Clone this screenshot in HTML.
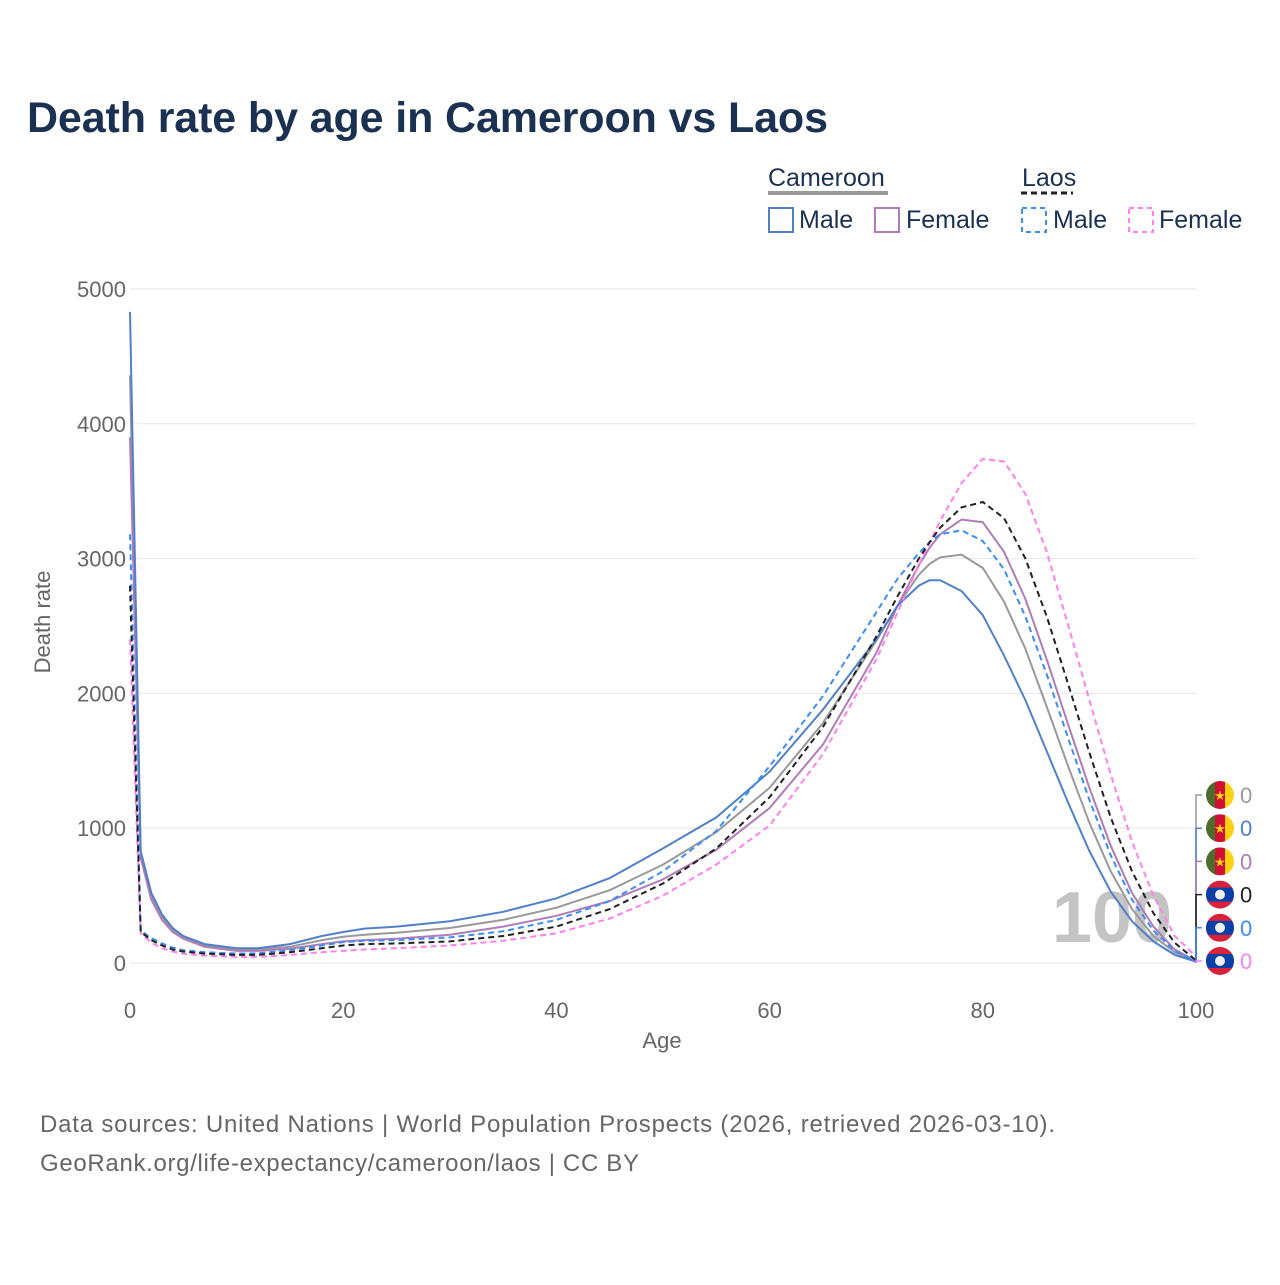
<!DOCTYPE html>
<html><head><meta charset="utf-8"><style>
body{margin:0;background:#fff;font-family:"Liberation Sans",sans-serif}
svg text{font-family:"Liberation Sans",sans-serif}
</style></head><body>
<svg id="chart" width="1280" height="1280" viewBox="0 0 1280 1280">
<text x="27" y="132" font-size="43" font-weight="bold" fill="#1b3152" textLength="801">Death rate by age in Cameroon vs Laos</text>
<g font-size="25" fill="#1b3152">
<text x="768" y="186">Cameroon</text>
<line x1="768" x2="888" y1="193" y2="193" stroke="#999" stroke-width="4"/>
<text x="1022" y="186">Laos</text>
<line x1="1021" x2="1073" y1="193" y2="193" stroke="#222" stroke-width="3" stroke-dasharray="6,4"/>
<g><rect x="769" y="208" width="24" height="24" fill="none" stroke="#4f80c8" stroke-width="2"/><text x="799" y="228">Male</text></g>
<g><rect x="875" y="208" width="24" height="24" fill="none" stroke="#b07cb8" stroke-width="2"/><text x="906" y="228">Female</text></g>
<g><rect x="1022" y="208" width="24" height="24" fill="none" stroke="#3a8ef5" stroke-width="2" stroke-dasharray="5,4"/><text x="1053" y="228">Male</text></g>
<g><rect x="1129" y="208" width="24" height="24" fill="none" stroke="#ff80ee" stroke-width="2" stroke-dasharray="5,4"/><text x="1159" y="228">Female</text></g>
</g>
<g id="grid"></g>
<text x="1112" y="942" font-size="72" font-weight="bold" fill="#c4c4c4" text-anchor="middle">100</text>
<g id="series"></g>
<defs id="defs"></defs>
<g id="flags"></g>
<text x="662" y="1048" font-size="22" fill="#666" text-anchor="middle">Age</text>
<text transform="translate(50,622) rotate(-90)" font-size="22" fill="#666" text-anchor="middle">Death rate</text>
<text x="40" y="1132" font-size="24" fill="#666" textLength="1015">Data sources: United Nations | World Population Prospects (2026, retrieved 2026-03-10).</text>
<text x="40" y="1171" font-size="24" fill="#666" textLength="599">GeoRank.org/life-expectancy/cameroon/laos | CC BY</text>
</svg>
<script>
const ages=[0,1,2,3,4,5,7,10,12,15,18,20,22,25,30,35,40,45,50,55,60,65,70,72,74,75,76,78,80,82,84,86,88,90,92,94,96,98,100];
const cmrTotal=[4360,800,490,340,245,190,130,100,100,120,170,195,210,225,260,320,410,540,730,970,1300,1780,2390,2650,2880,2960,3010,3030,2930,2680,2330,1900,1460,1040,680,400,200,80,10];
const cmrMale=[4830,830,520,360,260,200,140,110,110,140,200,230,255,270,310,380,480,630,850,1080,1420,1880,2400,2650,2800,2840,2840,2760,2580,2280,1950,1570,1190,830,530,310,160,60,10];
const cmrFemale=[3900,780,470,320,230,180,120,90,90,105,140,160,170,180,210,270,350,460,620,840,1150,1620,2300,2650,2950,3080,3180,3290,3270,3050,2700,2250,1770,1300,870,520,270,100,15];
const laoTotal=[2800,230,170,130,100,85,70,60,60,80,110,130,140,145,160,200,270,400,590,850,1230,1750,2420,2720,3000,3120,3230,3380,3420,3300,3000,2570,2070,1560,1080,680,370,150,20];
const laoMale=[3180,240,185,145,115,95,80,70,72,95,130,155,165,170,190,235,320,460,680,980,1460,1980,2600,2850,3040,3120,3180,3210,3130,2920,2570,2140,1670,1210,800,470,240,90,15];
const laoFemale=[2400,220,150,110,85,70,55,45,45,60,80,90,100,110,130,165,220,330,500,730,1020,1550,2250,2600,2950,3120,3280,3560,3740,3720,3480,3050,2510,1950,1400,900,500,200,50];
const yTicks=[0,1000,2000,3000,4000,5000];
const xTicks=[0,20,40,60,80,100];
const NS="http://www.w3.org/2000/svg";
const X=a=>130+a*10.66, Y=v=>963-v*0.1348;
function mk(t,at,p){const e=document.createElementNS(NS,t);for(const k in at)e.setAttribute(k,at[k]);p.appendChild(e);return e;}
const grid=document.getElementById('grid');
yTicks.forEach(v=>{
 const l=mk('line',{x1:130,x2:1196,y1:Y(v),y2:Y(v),stroke:'#e6e6e6','stroke-width':1},grid);
 
 
 const t=mk('text',{x:126,y:Y(v)+8,'font-size':22,fill:'#666','text-anchor':'end'},grid);t.textContent=v;
 
 
});
xTicks.forEach(a=>{
 const t=mk('text',{x:X(a),y:1018,'font-size':22,fill:'#666','text-anchor':'middle'},grid);t.textContent=a;
 
 
});
const series=[
 {n:'cameroon-total',d:cmrTotal,c:'#999',dash:''},
 {n:'cameroon-female',d:cmrFemale,c:'#b07cb8',dash:''},
 {n:'cameroon-male',d:cmrMale,c:'#4f80c8',dash:''},
 {n:'laos-female',d:laoFemale,c:'#ff80ee',dash:'6,4'},
 {n:'laos-male',d:laoMale,c:'#3a8ef5',dash:'6,4'},
 {n:'laos-total',d:laoTotal,c:'#222',dash:'6,4'}];
const sg=document.getElementById('series');
series.forEach(s=>{
 const p=mk('path',{d:s.d.map((v,i)=>(i?'L':'M')+X(ages[i]).toFixed(1)+','+Y(v).toFixed(1)).join(''),fill:'none',stroke:s.c,'stroke-width':2,'stroke-dasharray':s.dash},sg);
 
 
});
const fg=document.getElementById('flags');
const defs=document.getElementById('defs');
const lab=[['cmr','#999'],['cmr','#4f80c8'],['cmr','#b07cb8'],['lao','#222'],['lao','#3a8ef5'],['lao','#ff80ee']];
lab.forEach((f,i)=>{
 const y=795+i*33.2;
 mk('path',{d:`M1196,963 L1196,${y} L1202,${y}`,fill:'none',stroke:f[1],'stroke-width':1.5},fg);
 const cx=1220;
 const cp=mk('clipPath',{id:'fc'+i},defs);
 mk('circle',{cx:cx,cy:y,r:14},cp);
 const g=mk('g',{'clip-path':'url(#fc'+i+')'},fg);
 
 
 if(f[0]==='cmr'){
  mk('rect',{x:cx-14,y:y-14,width:10,height:28,fill:'#4e6d2c'},g);
  mk('rect',{x:cx-5,y:y-14,width:10,height:28,fill:'#d21034'},g);
  mk('rect',{x:cx+5,y:y-14,width:10,height:28,fill:'#fcd116'},g);
  const s=mk('text',{x:cx,y:y+5,'font-size':13,fill:'#fcd116','text-anchor':'middle'},g);s.textContent='★';
 }else{
  mk('rect',{x:cx-14,y:y-14,width:28,height:28,fill:'#d8223a'},g);
  mk('rect',{x:cx-14,y:y-7,width:28,height:14,fill:'#0a3fa8'},g);
  mk('circle',{cx:cx,cy:y,r:5,fill:'#eee'},g);
 }
 const t=mk('text',{x:1240,y:y+8,'font-size':22,fill:f[1]},fg);t.textContent='0';
 
 
});
</script>
</body></html>
